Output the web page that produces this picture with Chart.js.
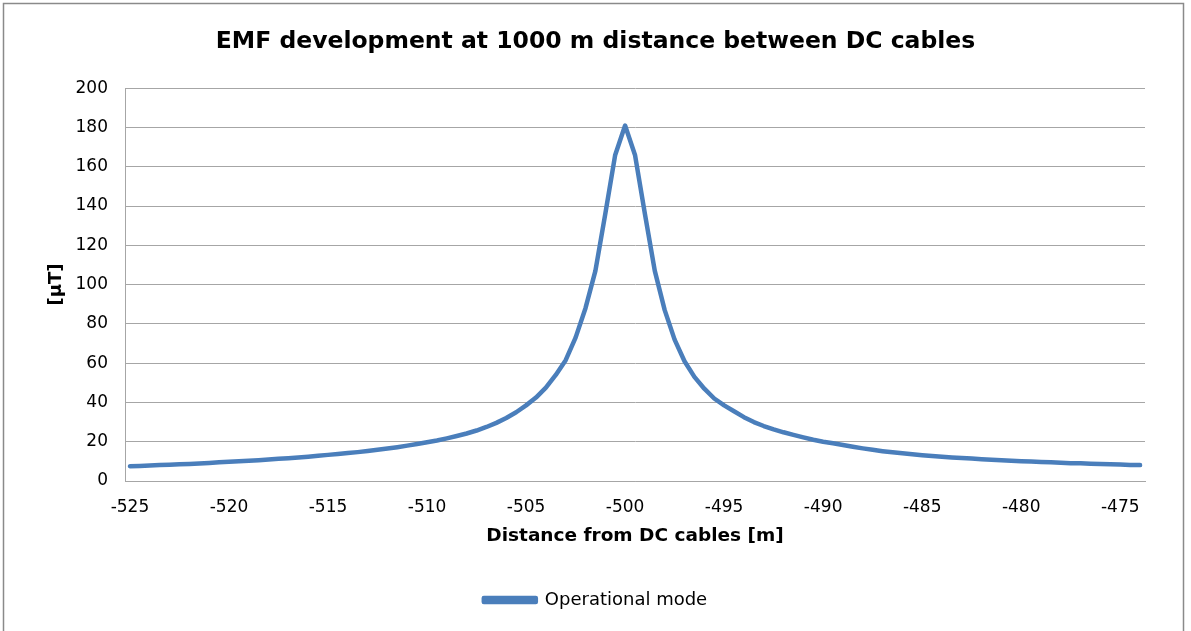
<!DOCTYPE html>
<html>
<head>
<meta charset="utf-8">
<script src="https://cdn.jsdelivr.net/npm/chart.js@4.4.1/dist/chart.umd.min.js"></script>
<style>
    html, body { margin: 0; padding: 0; background: #fff; }
    #wrap { position: relative; width: 1191px; height: 631px; }
</style>
</head>
<body>
<div id="wrap"><canvas id="emf-chart" width="1191" height="631"></canvas></div>
<script>
// Distance from DC cables [m], one point every 0.5 m
var distances = [
    -525, -524.5, -524, -523.5, -523, -522.5, -522, -521.5, -521, -520.5,
    -520, -519.5, -519, -518.5, -518, -517.5, -517, -516.5, -516, -515.5,
    -515, -514.5, -514, -513.5, -513, -512.5, -512, -511.5, -511, -510.5,
    -510, -509.5, -509, -508.5, -508, -507.5, -507, -506.5, -506, -505.5,
    -505, -504.5, -504, -503.5, -503, -502.5, -502, -501.5, -501, -500.5,
    -500,
    -499.5, -499, -498.5, -498, -497.5, -497, -496.5, -496, -495.5, -495,
    -494.5, -494, -493.5, -493, -492.5, -492, -491.5, -491, -490.5, -490,
    -489.5, -489, -488.5, -488, -487.5, -487, -486.5, -486, -485.5, -485,
    -484.5, -484, -483.5, -483, -482.5, -482, -481.5, -481, -480.5, -480,
    -479.5, -479, -478.5, -478, -477.5, -477, -476.5, -476, -475.5, -475,
    -474.5, -474
];

// EMF [µT] - Operational mode
var operationalMode = [
    7.5, 7.7, 7.9, 8.1, 8.3, 8.5, 8.7, 8.9, 9.2, 9.5,
    9.8, 10.0, 10.3, 10.6, 11.0, 11.3, 11.6, 12.0, 12.4, 12.8,
    13.3, 13.7, 14.2, 14.7, 15.3, 15.9, 16.5, 17.2, 18.0, 18.8,
    19.7, 20.6, 21.7, 22.9, 24.2, 25.7, 27.5, 29.6, 32.1, 35.0,
    38.5, 42.5, 47.5, 54, 61.5, 73, 88, 107, 136, 166,
    181,
    166, 136, 107, 87, 72, 61, 53, 47, 42, 38.5,
    35.5, 32.5, 30, 28, 26.3, 24.8, 23.5, 22.2, 21.0, 20.0,
    19.2, 18.3, 17.4, 16.6, 15.9, 15.2, 14.6, 14.1, 13.6, 13.1,
    12.7, 12.3, 12.0, 11.7, 11.4, 11.1, 10.8, 10.6, 10.3, 10.1,
    9.9, 9.7, 9.5, 9.3, 9.1, 9.0, 8.8, 8.6, 8.5, 8.4,
    8.2, 8.1
];

var xTickLabels = [-525, -520, -515, -510, -505, -500, -495, -490, -485, -480, -475];
var yTickLabels = [0, 20, 40, 60, 80, 100, 120, 140, 160, 180, 200];

var lineColor = '#4a7ebb';
var gridColor = '#a6a6a6';

var points = distances.map(function(d, i) {
    return { x: d, y: operationalMode[i] };
});

// white background + grey frame like the Excel chart border
var framePlugin = {
    id: 'frame',
    beforeDraw: function(chart) {
        var c = chart.ctx;
        c.save();
        c.fillStyle = '#fff';
        c.fillRect(0, 0, chart.width, chart.height);
        c.strokeStyle = '#8a8a8a';
        c.lineWidth = 1.5;
        c.strokeRect(3.5, 3.5, 1180, 640);
        c.restore();
    }
};

Chart.defaults.font.family = '"DejaVu Sans", Verdana, sans-serif';
Chart.defaults.color = '#000';

var ctx = document.getElementById('emf-chart').getContext('2d');
new Chart(ctx, {
    type: 'line',
    data: {
        datasets: [{
            label: 'Operational mode',
            data: points,
            borderColor: lineColor,
            backgroundColor: lineColor,
            borderWidth: 4.5,
            pointRadius: 0,
            tension: 0,
            borderJoinStyle: 'round',
            borderCapStyle: 'round'
        }]
    },
    options: {
        responsive: false,
        animation: false,
        layout: {
            padding: { left: 0, right: 0, top: 0, bottom: 12 }
        },
        plugins: {
            title: {
                display: true,
                text: 'EMF development at 1000 m distance between DC cables',
                font: { size: 23.5, weight: 'bold' },
                color: '#000',
                padding: { top: 28, bottom: 32 }
            },
            legend: {
                position: 'bottom',
                labels: {
                    boxWidth: 52,
                    boxHeight: 4,
                    padding: 10,
                    font: { size: 18 },
                    color: '#000'
                }
            },
            tooltip: { enabled: false }
        },
        scales: {
            x: {
                type: 'linear',
                min: -525.25,
                max: -473.75,
                afterBuildTicks: function(scale) {
                    scale.ticks = xTickLabels.map(function(v) { return { value: v }; });
                },
                afterFit: function(scale) {
                    scale.height = 100;
                },
                grid: { display: false, drawTicks: false },
                border: { display: true, color: gridColor, width: 1 },
                ticks: {
                    padding: 16,
                    font: { size: 17 },
                    maxRotation: 0,
                    autoSkip: false
                },
                title: {
                    display: true,
                    text: 'Distance from DC cables [m]',
                    font: { size: 18.5, weight: 'bold' },
                    padding: { top: 0, bottom: 34 }
                }
            },
            y: {
                min: 0,
                max: 200,
                afterBuildTicks: function(scale) {
                    scale.ticks = yTickLabels.map(function(v) { return { value: v }; });
                },
                afterFit: function(scale) {
                    scale.width = 125;
                },
                grid: { color: gridColor, lineWidth: 1, drawTicks: false },
                border: { display: true, color: gridColor, width: 1 },
                ticks: {
                    padding: 17,
                    font: { size: 17 }
                },
                title: {
                    display: true,
                    text: '[µT]',
                    font: { size: 18, weight: 'bold' },
                    padding: { top: 46, bottom: 0 }
                }
            },
            // empty right-hand space so title and legend centre on the whole frame
            yRight: {
                position: 'right',
                min: 0,
                max: 200,
                afterFit: function(scale) {
                    scale.width = 46;
                },
                grid: { display: false, drawTicks: false },
                border: { display: false },
                ticks: { display: false }
            }
        }
    },
    plugins: [framePlugin]
});
</script>
</body>
</html>
